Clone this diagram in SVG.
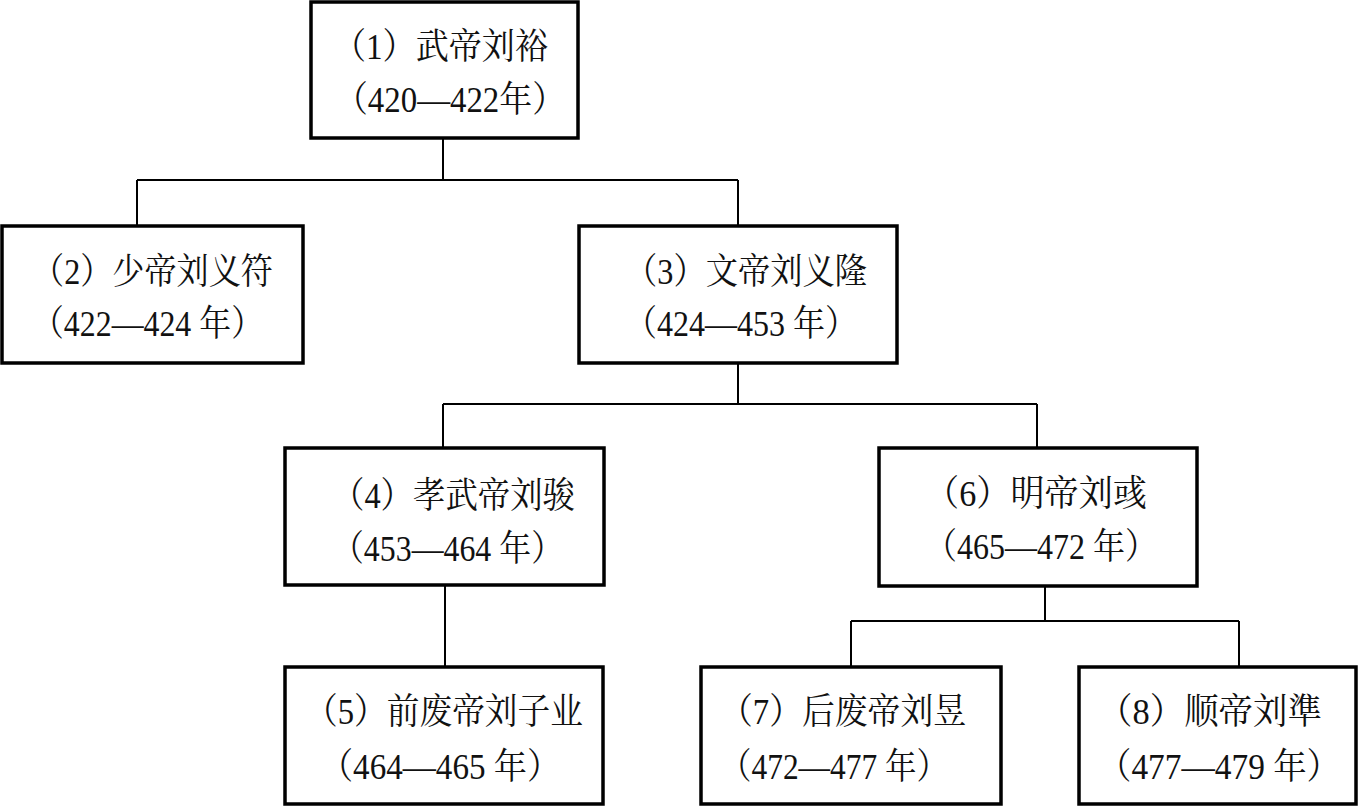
<svg xmlns="http://www.w3.org/2000/svg" width="1359" height="807" viewBox="0 0 1359 807">
<style>
.box{fill:#fff;stroke:#000;stroke-width:3.5}
.conn{fill:none;stroke:#000;stroke-width:2}
text{font-family:"Liberation Serif","Noto Serif CJK SC","Noto Sans CJK SC",serif;font-size:36px;fill:#111}
</style>
<rect width="1359" height="807" fill="#fff"/>
<g id="connectors">
<path class="conn" d="M443,138 V180 M137,180 H738 M137,180 V226 M738,180 V226"/>
<path class="conn" d="M738,363 V404 M443,404 H1037 M443,404 V448 M1037,404 V448"/>
<path class="conn" d="M445,585 V667"/>
<path class="conn" d="M1045,586 V621 M851,621 H1239 M851,621 V667 M1239,621 V667"/>
</g>
<g id="node1">
<rect class="box" x="311" y="2" width="267" height="136"/>
<text x="333" y="59" textLength="215" lengthAdjust="spacingAndGlyphs">（1）武帝刘裕</text>
<text x="335" y="112" textLength="230" lengthAdjust="spacingAndGlyphs">（420—422年）</text>
</g>
<g id="node2">
<rect class="box" x="2" y="226" width="301" height="137"/>
<text x="32" y="284" textLength="241" lengthAdjust="spacingAndGlyphs">（2）少帝刘义符</text>
<text x="32" y="336" textLength="231" lengthAdjust="spacingAndGlyphs">（422—424 年）</text>
</g>
<g id="node3">
<rect class="box" x="579" y="226" width="318" height="137"/>
<text x="625" y="284" textLength="242" lengthAdjust="spacingAndGlyphs">（3）文帝刘义隆</text>
<text x="625" y="336" textLength="232" lengthAdjust="spacingAndGlyphs">（424—453 年）</text>
</g>
<g id="node4">
<rect class="box" x="285" y="448" width="319" height="137"/>
<text x="332" y="508" textLength="243" lengthAdjust="spacingAndGlyphs">（4）孝武帝刘骏</text>
<text x="332" y="561" textLength="231" lengthAdjust="spacingAndGlyphs">（453—464 年）</text>
</g>
<g id="node6">
<rect class="box" x="879" y="448" width="318" height="138"/>
<text x="925" y="506" textLength="222" lengthAdjust="spacingAndGlyphs">（6）明帝刘彧</text>
<text x="925" y="559" textLength="232" lengthAdjust="spacingAndGlyphs">（465—472 年）</text>
</g>
<g id="node5">
<rect class="box" x="285" y="667" width="318" height="137"/>
<text x="305" y="724" textLength="278" lengthAdjust="spacingAndGlyphs">（5）前废帝刘子业</text>
<text x="320" y="779" textLength="240" lengthAdjust="spacingAndGlyphs">（464—465 年）</text>
</g>
<g id="node7">
<rect class="box" x="701" y="667" width="300" height="137"/>
<text x="720" y="724" textLength="246" lengthAdjust="spacingAndGlyphs">（7）后废帝刘昱</text>
<text x="720" y="779" textLength="228" lengthAdjust="spacingAndGlyphs">（472—477 年）</text>
</g>
<g id="node8">
<rect class="box" x="1079" y="667" width="277" height="137"/>
<text x="1098" y="724" textLength="224" lengthAdjust="spacingAndGlyphs">（8）顺帝刘準</text>
<text x="1098" y="779" textLength="242" lengthAdjust="spacingAndGlyphs">（477—479 年）</text>
</g>
</svg>
